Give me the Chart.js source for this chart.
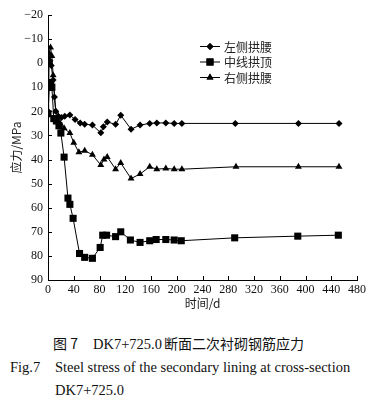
<!DOCTYPE html>
<html lang="zh">
<head>
<meta charset="UTF-8">
<title>DK7+725.0 钢筋应力</title>
<script src="https://cdn.jsdelivr.net/npm/chart.js"></script>
<style>
  html, body { margin: 0; padding: 0; background: #fff; }
  body { width: 384px; height: 410px; position: relative; overflow: hidden; }
  #chartBox { position: absolute; left: 0; top: 0; width: 384px; height: 320px; }
  .cap { position: absolute; white-space: pre; color: #111; line-height: 1; }
  .serif { font-family: "Liberation Serif", "Noto Sans CJK SC", serif; font-size: 14.5px; }
  .cjk { font-family: "Noto Sans CJK SC", "Liberation Serif", sans-serif; font-size: 14px; }
</style>
</head>
<body>
<div id="chartBox"><canvas id="stressChart" width="384" height="320"></canvas></div>

<div class="cap cjk" style="left:53px; top:336px;">图 7</div>
<div class="cap serif" style="left:93px; top:337px;">DK7+725.0</div>
<div class="cap cjk" style="left:164px; top:336px;">断面二次衬砌钢筋应力</div>
<div class="cap serif" style="left:10px; top:360px;">Fig.7</div>
<div class="cap serif" style="left:55px; top:360px;">Steel stress of the secondary lining at cross-section</div>
<div class="cap serif" style="left:55px; top:383px;">DK7+725.0</div>

<script>
// series labels
const seriesNames = ['左侧拱腰', '中线拱顶', '右侧拱腰'];

// 左侧拱腰 (diamonds)
const leftDays   = [0, 1, 3, 5, 8, 10, 12, 16, 21, 26, 34, 42, 50, 57, 69, 82, 86, 92, 105, 113, 129, 143, 158, 169, 183, 196, 208, 291, 389, 452];
const leftStress = [20, 0, -1, 1, 7, 14, 20, 22, 22.5, 22, 21.5, 23.4, 24.8, 25.3, 25.7, 28.9, 26.4, 24.4, 25.4, 21.6, 27.4, 25.7, 25, 24.8, 24.8, 25, 25, 25, 25, 25];

// 中线拱顶 (squares)
const midDays   = [0, 2, 4, 6, 9, 13, 17, 20, 25, 31, 34, 39, 49, 57, 69, 81, 85, 91, 105, 113, 128, 143, 158, 168, 183, 196, 207, 290, 388, 451];
const midStress = [21, 10, 8, 10, 23, 24, 26, 29, 39, 56, 58.6, 64.4, 79, 80.6, 81, 76.5, 71.4, 71.4, 72, 70, 73.4, 74.4, 73.7, 73.2, 73.2, 73.4, 73.7, 72.5, 71.8, 71.4];

// 右侧拱腰 (triangles)
const rightDays   = [0, 2, 4, 6, 8, 12, 19, 25, 34, 40, 48, 57, 69, 82, 87, 92, 105, 113, 129, 143, 158, 169, 183, 196, 208, 292, 389, 452];
const rightStress = [20, -4, -6.5, -3, 5, 20, 25, 27, 29, 33, 37, 36.3, 38, 42.3, 40, 38.9, 44, 41.4, 47.9, 46, 43, 44, 43.7, 44, 44, 43, 43, 43];

// axis ranges
const xMin = 0, xMax = 480, xStep = 40;
const yMin = -20, yMax = 90, yStep = 10;

function toPoints(days, vals) {
  return days.map((d, i) => ({ x: d, y: vals[i] }));
}

const serifFont = '"Liberation Serif", "Times New Roman", serif';
const cjkFont = '"Noto Sans CJK SC", sans-serif';

const baseSet = {
  borderColor: '#000',
  backgroundColor: '#000',
  pointBackgroundColor: '#000',
  pointBorderColor: '#000',
  borderWidth: 1,
  pointBorderWidth: 0,
  tension: 0
};

// ticks pointing into the plot
const innerTicks = {
  id: 'innerTicks',
  afterDraw(chart) {
    const { ctx, chartArea, scales } = chart;
    ctx.save();
    ctx.strokeStyle = '#000';
    ctx.lineWidth = 1;
    ctx.beginPath();
    scales.x.ticks.forEach(t => {
      const px = Math.round(scales.x.getPixelForValue(t.value)) + 0.5;
      ctx.moveTo(px, chartArea.bottom);
      ctx.lineTo(px, chartArea.bottom - 4);
    });
    scales.y.ticks.forEach(t => {
      const py = Math.round(scales.y.getPixelForValue(t.value)) + 0.5;
      ctx.moveTo(chartArea.left, py);
      ctx.lineTo(chartArea.left + 4, py);
    });
    ctx.stroke();
    ctx.restore();
  }
};

// legend box in the upper right of the plot
const boxLegend = {
  id: 'boxLegend',
  afterDraw(chart) {
    const { ctx } = chart;
    const rows = [46.5, 62, 77.5];
    ctx.save();
    chart.data.datasets.forEach((ds, i) => {
      const y = rows[i];
      ctx.strokeStyle = '#000';
      ctx.lineWidth = 1;
      ctx.beginPath();
      ctx.moveTo(200, y);
      ctx.lineTo(220, y);
      ctx.stroke();
      ctx.fillStyle = '#000';
      Chart.helpers.drawPoint(ctx, { pointStyle: ds.pointStyle, radius: ds.pointRadius, borderWidth: 0 }, 210, y);
      ctx.fill();
      ctx.fillStyle = '#222';
      ctx.font = '12px ' + cjkFont;
      ctx.textBaseline = 'middle';
      ctx.fillText(ds.label, 224, y + 0.5);
    });
    ctx.restore();
  }
};

new Chart(document.getElementById('stressChart'), {
  type: 'line',
  data: {
    datasets: [
      Object.assign({}, baseSet, { label: seriesNames[0], data: toPoints(leftDays, leftStress), pointStyle: 'rectRot', pointRadius: 3.5 }),
      Object.assign({}, baseSet, { label: seriesNames[1], data: toPoints(midDays, midStress), pointStyle: 'rect', pointRadius: 5 }),
      Object.assign({}, baseSet, { label: seriesNames[2], data: toPoints(rightDays, rightStress), pointStyle: 'triangle', pointRadius: 4 })
    ]
  },
  options: {
    responsive: false,
    animation: false,
    devicePixelRatio: 1,
    layout: { padding: { top: 15, right: 27, left: 0, bottom: 0 } },
    plugins: {
      legend: { display: false },
      tooltip: { enabled: false }
    },
    scales: {
      x: {
        type: 'linear',
        min: xMin, max: xMax,
        grid: { display: false, drawTicks: false },
        border: { color: '#000', width: 1 },
        ticks: { stepSize: xStep, color: '#111', padding: 3, font: { family: serifFont, size: 12 } },
        title: { display: true, text: '时间/d', color: '#222', padding: { top: 0, bottom: 9 }, font: { family: cjkFont, size: 12 } },
        afterFit(scale) { scale.height = 40; }
      },
      y: {
        reverse: true,
        min: yMin, max: yMax,
        grid: { display: false, drawTicks: false },
        border: { color: '#000', width: 1 },
        ticks: {
          stepSize: yStep, color: '#111', padding: 5, font: { family: serifFont, size: 12 },
          callback: v => (v < 0 ? '\u2212' + Math.abs(v) : String(v))
        },
        title: { display: true, text: '应力/MPa', color: '#222', padding: { top: 9, bottom: 0 }, font: { family: cjkFont, size: 12 } },
        afterFit(scale) { scale.width = 48; }
      }
    }
  },
  plugins: [innerTicks, boxLegend]
});
</script>
</body>
</html>
